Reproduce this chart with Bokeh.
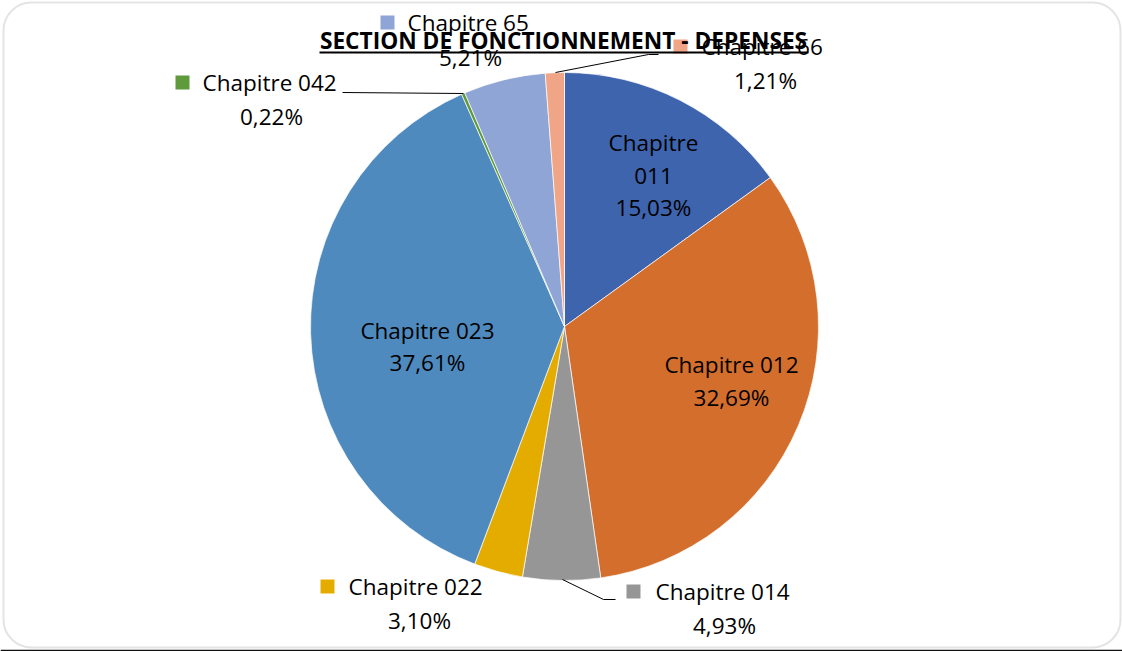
import numpy as np
from bokeh.plotting import figure
from bokeh.models import Range1d, ColumnDataSource, BoxAnnotation
from bokeh.core.properties import value
from bokeh.embed import file_html
from bokeh.resources import INLINE

# ---- data ----
title = "SECTION DE FONCTIONNEMENT - DEPENSES"
chapters = ["011", "012", "014", "022", "023", "042", "65", "66"]
shares = [15.03, 32.69, 4.93, 3.10, 37.61, 0.22, 5.21, 1.21]
colors = ["#3F64AE", "#D46E2C", "#969696", "#E5AC00", "#4F8ABF", "#5F9A3C", "#8FA5D5", "#F0A586"]

FONT = value("Open Sans")

W, H = 1122, 651
p = figure(width=W, height=H, x_range=Range1d(0, W), y_range=Range1d(0, H),
           output_backend="svg", toolbar_location=None, min_border=0)
p.axis.visible = False
p.grid.visible = False
p.outline_line_color = None
p.background_fill_color = "white"
p.border_fill_color = "white"


def Y(ry):
    return H - ry


# rounded frame
p.add_layout(BoxAnnotation(left=3, right=1120, bottom=Y(647), top=Y(2),
                           fill_color=None, line_color="#A6A6A6", line_width=2,
                           border_radius=28))
# dark rule at the very bottom
p.line([0, W], [Y(650), Y(650)], line_color="#111111", line_width=1.5)

# pie
vals = np.array(shares)
frac = vals / vals.sum()
cum = np.concatenate([[0], np.cumsum(frac)])
start = np.pi / 2 - cum[:-1] * 2 * np.pi
end = np.pi / 2 - cum[1:] * 2 * np.pi
src = ColumnDataSource(dict(start=start, end=end, color=colors,
                            x=[564] * len(vals), y=[Y(326)] * len(vals)))
p.wedge(x="x", y="y", radius=254, start_angle="start", end_angle="end",
        direction="clock", fill_color="color", line_color="white", line_width=0.7,
        source=src)

pct = [f"{v:.2f}".replace(".", ",") + "%" for v in shares]
names = ["Chapitre " + c for c in chapters]

# leader lines
p.line([342, 463], [Y(92), Y(93)], line_color="black", line_width=1)
p.line([555, 648, 658], [Y(72), Y(54), Y(54)], line_color="black", line_width=1)
p.line([562, 603, 615], [Y(579), Y(599), Y(599)], line_color="black", line_width=1)

FS = "22.5px"
TC = "#000000"


def txt(x, y, s, align="center"):
    p.text([x], [Y(y)], text=[s], text_align=align, text_baseline="middle",
           text_font=FONT, text_font_size=FS, text_color=TC)


# inside labels
txt(653, 142, "Chapitre")
txt(653, 175, chapters[0])
txt(653, 207, pct[0])
txt(731, 364, names[1])
txt(731, 397, pct[1])
txt(427, 330, names[4])
txt(427, 362, pct[4])

# outside labels with legend keys
outside = [  # (index, square x, square y, text left, pct center x, pct y)
    (2, 633, 591, 655, 724, 625),
    (3, 327, 586, 348, 419, 620),
    (5, 182, 82, 202, 271, 116),
    (6, 387, 22, 407, 470, 57),
    (7, 680, 46, 701, 765, 80),
]
for i, sx, sy, tx, px, py in outside:
    p.scatter([sx], [Y(sy)], marker="square", size=14, fill_color=colors[i],
              line_color=None)
    txt(tx, sy, names[i], align="left")
    txt(px, py, pct[i])

# title
p.text([563], [Y(40)], text=[title], text_align="center", text_baseline="middle",
       text_font=FONT, text_font_size="22.7px", text_font_style="bold", text_color=TC)
p.line([319, 808], [Y(52), Y(52)], line_color="black", line_width=2)

open("out.html", "w").write(file_html(p, INLINE))
